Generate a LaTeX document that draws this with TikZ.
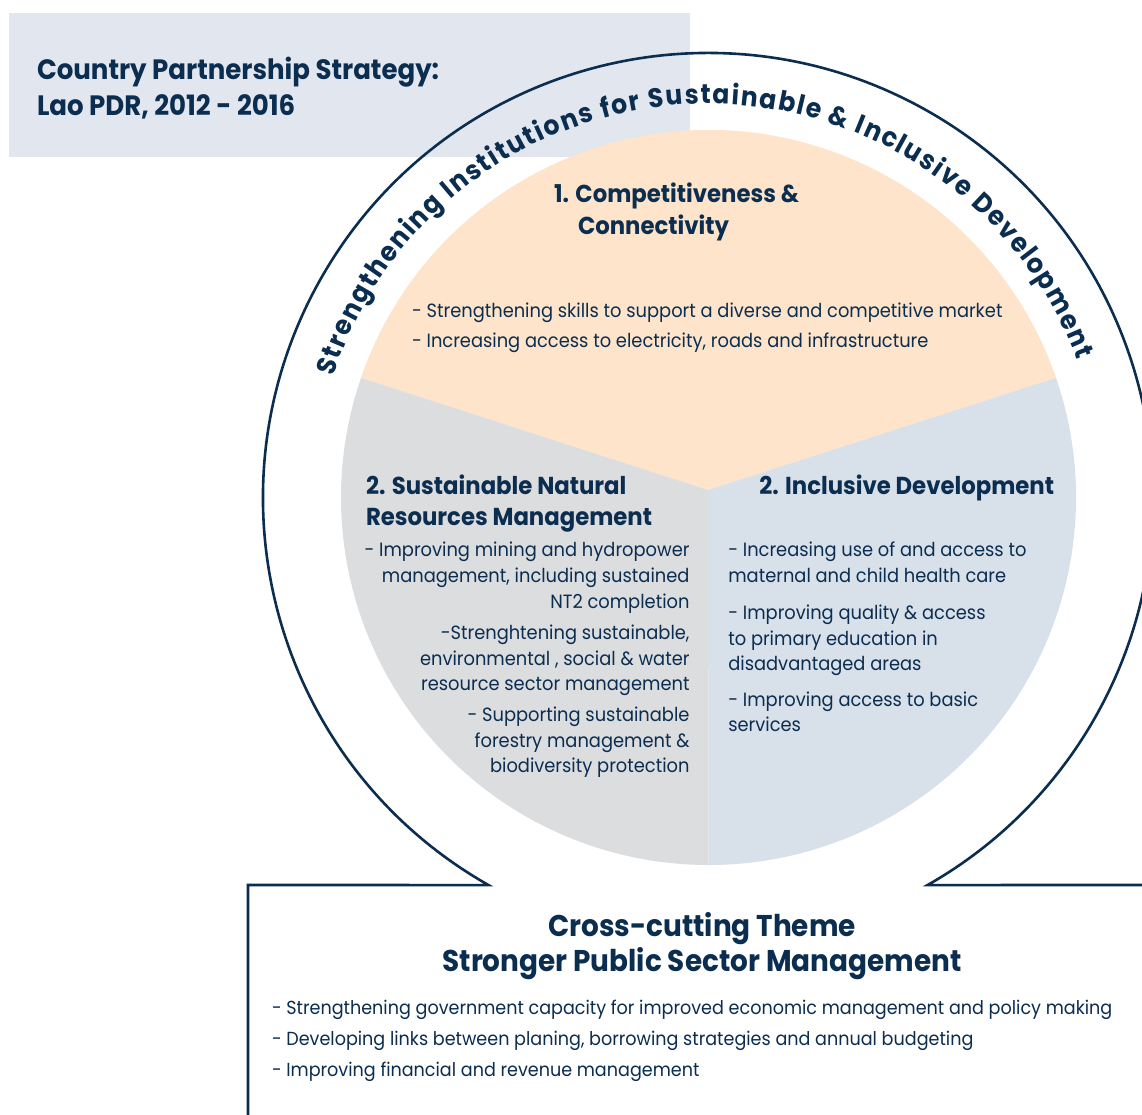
\documentclass[tikz,border=0pt]{standalone}
\usepackage{fontspec}
\setmainfont{Poppins}[FakeStretch=0.93]
\usetikzlibrary{calc,decorations.text}

\definecolor{navy}{HTML}{0B2D50}
\definecolor{peach}{HTML}{FDE4CA}
\definecolor{stone}{HTML}{DCDDDF}
\definecolor{mist}{HTML}{D8E0EA}
\definecolor{panel}{HTML}{E2E7EF}

\newcommand\ringfont{\fontsize{27}{31}\selectfont\bfseries}

\begin{document}
\begin{tikzpicture}[x=1pt,y=1pt,
  body/.style={inner sep=0pt,outer sep=0pt,text=navy,font=\fontsize{19.2}{24}\selectfont},
  wide/.style={inner sep=0pt,outer sep=0pt,text=navy,font=\fontsize{18.9}{24}\selectfont},
  head/.style={inner sep=0pt,outer sep=0pt,text=navy,font=\fontsize{24.5}{29}\selectfont\bfseries},
  title/.style={inner sep=0pt,outer sep=0pt,text=navy,font=\fontsize{28}{33}\selectfont\bfseries},
  theme/.style={inner sep=0pt,outer sep=0pt,text=navy,font=\fontsize{30}{35}\selectfont\bfseries},
  frame/.style={draw=navy,line width=2.6pt},
]
\useasboundingbox (0,0) rectangle (1142,-1115);
\fill[white] (0,0) rectangle (1142,-1115);

% header panel
\fill[panel] (9,-13) rectangle (690,-157);
\node[title,anchor=base west] (title1) at (37,-80) {Country Partnership Strategy:};
\node[title,anchor=base west] (title2) at (37,-116) {Lao PDR, 2012 - 2016};

% three-part pie
\coordinate (C) at (708.5,-497.5);
\coordinate (V) at (708,-490);
\def\pieR{367.5}
\fill[peach] (V) -- ($(C)+(161:\pieR)$) arc[start angle=161,end angle=19,radius=\pieR] -- cycle;
\fill[stone] (V) -- ($(C)+(270:\pieR)$) arc[start angle=270,end angle=161,radius=\pieR] -- cycle;
\fill[mist] (V) -- ($(C)+(-90:\pieR)$) arc[start angle=-90,end angle=19,radius=\pieR] -- cycle;

% outer ring opening into the cross-cutting box
\coordinate (O) at (708,-498);
\def\ringR{445}
\draw[frame] (248,-1120) -- (248,-885) -- ($(O)+(240.44:\ringR)$)
  arc[start angle=240.44,end angle=-60.44,radius=\ringR] -- (1150,-885);

% curved label inside the ring
\path[decorate,decoration={text along path,text color=navy,text align=fit to path,
  text={|\ringfont|Strengthening Institutions for Sustainable {\&} Inclusive Development}}]
  ($(O)+(162:394)$) arc[start angle=162,end angle=20.5,radius=394];

% pillar 1
\node[head,anchor=base west] (p1a) at (554,-203) {1. Competitiveness \&};
\node[head,anchor=base west] (p1b) at (578,-235) {Connectivity};
\node[body,anchor=base west] (p1c) at (412,-317) {- Strengthening skills to support a diverse and competitive market};
\node[body,anchor=base west] (p1d) at (412,-347) {- Increasing access to electricity, roads and infrastructure};

% pillar 2 (natural resources)
\node[head,anchor=base west] (p2a) at (366,-494) {2. Sustainable Natural};
\node[head,anchor=base west] (p2b) at (366,-525) {Resources Management};
\foreach \txt/\yy [count=\i] in {
  {- Improving mining and hydropower}/556.7,
  {management, including sustained}/582.3,
  {NT2 completion}/608.3,
  {-Strenghtening sustainable,}/639.3,
  {environmental , social \& water}/665,
  {resource sector management}/690,
  {- Supporting sustainable}/721.7,
  {forestry management \&}/747.3,
  {biodiversity protection}/772.7}
  \node[body,anchor=base east] (nr\i) at (689.5,-\yy) {\txt};

% pillar 2 (inclusive development)
\node[head,anchor=base west] (p3a) at (759.3,-494) {2. Inclusive Development};
\foreach \txt/\yy [count=\i] in {
  {- Increasing use of and access to}/556.7,
  {maternal and child health care}/582.3,
  {- Improving quality \& access}/619,
  {to primary education in}/645,
  {disadvantaged areas}/670,
  {- Improving access to basic}/706,
  {services}/731.5}
  \node[body,anchor=base west] (id\i) at (728.3,-\yy) {\txt};

% cross-cutting theme
\node[theme,anchor=base] (x1) at (702,-936.7) {Cross-cutting Theme};
\node[theme,anchor=base] (x2) at (702,-971.7) {Stronger Public Sector Management};
\node[wide,anchor=base west] (x3) at (272,-1014) {- Strengthening government capacity for improved economic management and policy making};
\node[wide,anchor=base west] (x4) at (272,-1045) {- Developing links between planing, borrowing strategies and annual budgeting};
\node[wide,anchor=base west] (x5) at (272,-1076) {- Improving financial and revenue management};
\end{tikzpicture}
\end{document}
